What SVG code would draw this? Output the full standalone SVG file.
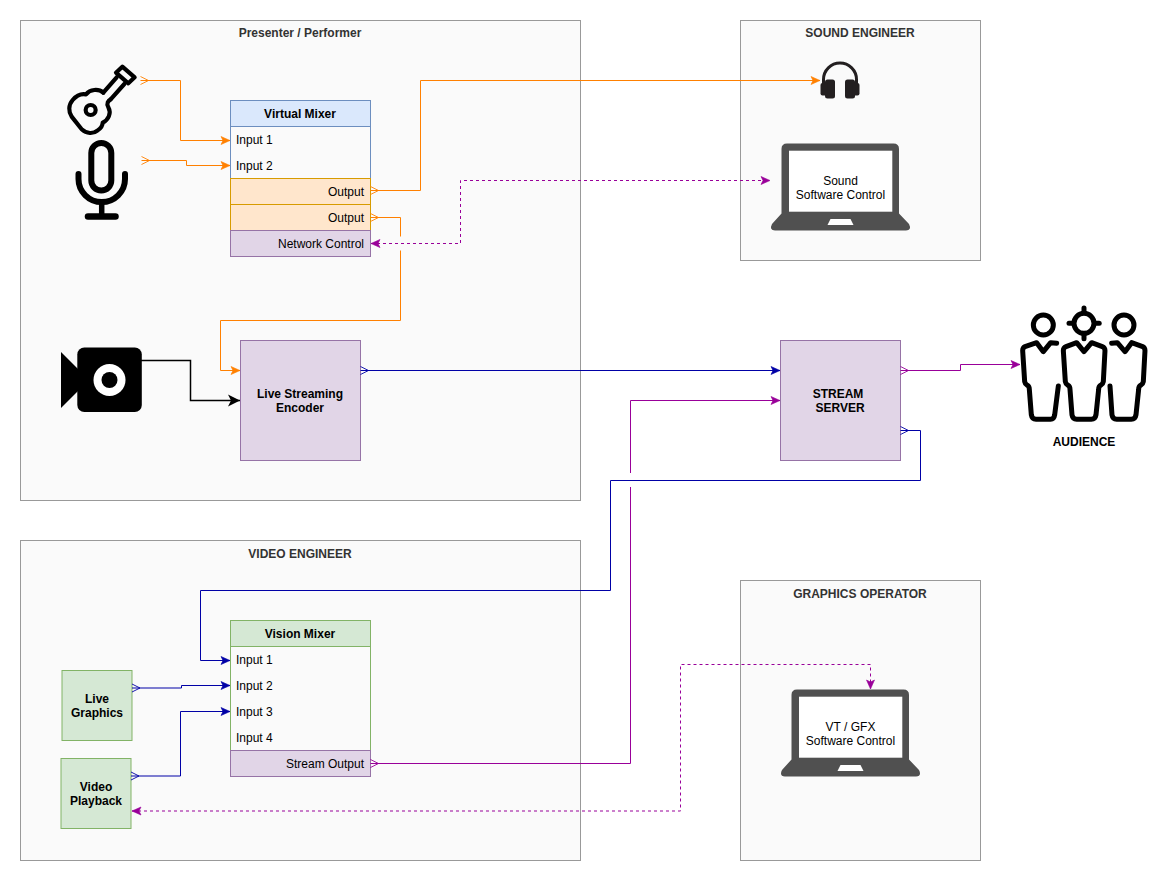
<svg xmlns="http://www.w3.org/2000/svg" width="1169" height="881" viewBox="0 0 1169 881">
<style>
text{font-family:"Liberation Sans",Arial,sans-serif;font-size:12px;fill:#000}
.b{font-weight:bold}.m{text-anchor:middle}.e{text-anchor:end}
.ct{font-weight:bold;fill:#333;text-anchor:middle}
.c{fill:#fafafa;stroke:#999}
.blue{fill:#dae8fc;stroke:#6c8ebf}.or{fill:#ffe6cc;stroke:#d79b00}.pu{fill:#e1d5e7;stroke:#9673a6}.gr{fill:#d5e8d4;stroke:#82b366}.tb{fill:none}
.l{fill:none;stroke-width:1}
.o{stroke:#ff8000}.p{stroke:#990099}.n{stroke:#0000a6}
.d{stroke-dasharray:3 3}
.ic{fill:none;stroke:#000;stroke-linecap:round;stroke-linejoin:round}
.lap{fill:#505050}
.hp{fill:#231f20}
</style>
<defs>
<marker id="ao" markerUnits="userSpaceOnUse" markerWidth="12" markerHeight="12" refX="9" refY="5" orient="auto-start-reverse" overflow="visible"><path d="M0 1L9 5L0 9L2 5Z" fill="#ff8000" stroke="#ff8000" stroke-width=".6"/></marker>
<marker id="ap" markerUnits="userSpaceOnUse" markerWidth="12" markerHeight="12" refX="9" refY="5" orient="auto-start-reverse" overflow="visible"><path d="M0 1L9 5L0 9L2 5Z" fill="#990099" stroke="#990099" stroke-width=".6"/></marker>
<marker id="an" markerUnits="userSpaceOnUse" markerWidth="12" markerHeight="12" refX="9" refY="5" orient="auto-start-reverse" overflow="visible"><path d="M0 1L9 5L0 9L2 5Z" fill="#0000a6" stroke="#0000a6" stroke-width=".6"/></marker>
<marker id="ak" markerUnits="userSpaceOnUse" markerWidth="14" markerHeight="14" refX="12" refY="6" orient="auto" overflow="visible"><path d="M0 0L12 6L0 12L3 6Z" fill="#000"/></marker>
<marker id="so" markerUnits="userSpaceOnUse" markerWidth="10" markerHeight="10" refX="0" refY="5" orient="auto" overflow="visible"><path d="M0 1L8 5L0 9" fill="none" stroke="#ff8000" stroke-width=".9"/></marker>
<marker id="sp" markerUnits="userSpaceOnUse" markerWidth="10" markerHeight="10" refX="0" refY="5" orient="auto" overflow="visible"><path d="M0 1L8 5L0 9" fill="none" stroke="#990099" stroke-width=".9"/></marker>
<marker id="sn" markerUnits="userSpaceOnUse" markerWidth="10" markerHeight="10" refX="0" refY="5" orient="auto" overflow="visible"><path d="M0 1L8 5L0 9" fill="none" stroke="#0000a6" stroke-width=".9"/></marker>
<g id="laptop">
<path class="lap" d="M781.500 190V149Q781.500 143.500 787 143.500H893.500Q899 143.500 899 149V213.500L909 224Q912 230 906 230.500H775Q769 230 772 224L781.500 213.500Z"/>
<rect x="789" y="150.700" width="103.300" height="61" fill="#fff"/>
<path d="M830.500 219H850.500L853.500 225H827.500Z" fill="#fff"/>
</g>
</defs>
<rect width="1169" height="881" fill="#fff"/>

<g id="presenter-container"><rect class="c" x="20.500" y="20.500" width="560" height="480"/><text class="ct" x="300" y="37">Presenter / Performer</text></g>
<g id="sound-container"><rect class="c" x="740.500" y="20.500" width="240" height="240"/><text class="ct" x="860" y="37">SOUND ENGINEER</text></g>
<g id="video-container"><rect class="c" x="20.500" y="540.500" width="560" height="320"/><text class="ct" x="300" y="558">VIDEO ENGINEER</text></g>
<g id="graphics-container"><rect class="c" x="740.500" y="580.500" width="240" height="280"/><text class="ct" x="860" y="598">GRAPHICS OPERATOR</text></g>

<g id="guitar">
<g transform="translate(60,60) scale(.3333)" class="ic" stroke-width="12.500">
<path d="M130 98C115 85 90 88 78 103C62 100 48 108 38 120C25 135 25 155 35 170L65 208C80 222 100 222 112 212C122 205 128 198 128 188C145 180 155 160 145 142C138 130 145 122 152 118"/>
<path d="M130 98L170 52M152 118L193 72"/>
<path d="M187 20L224 52L205 70L168 38Z"/>
<circle cx="92" cy="150" r="15"/>
</g>
</g>
<g id="microphone" class="ic">
<rect x="91.300" y="143" width="20" height="47.500" rx="10" stroke-width="6"/>
<path d="M78.500 174V179A23.200 23 0 0 0 125 179V174" stroke-width="6"/>
<path d="M101.700 202V216" stroke-width="5.500"/>
<path d="M88 216.500H115.500" stroke-width="6.500"/>
</g>
<g id="camera">
<rect x="77.300" y="347.500" width="64.500" height="64.500" rx="7" fill="#000"/>
<path d="M61 352L79 370V390L61 408Z" fill="#000"/>
<circle cx="109.500" cy="380" r="16" fill="#fff"/><circle cx="109.500" cy="380" r="8" fill="#000"/>
</g>
<g id="virtual-mixer">
<rect class="blue" x="230.500" y="100.500" width="140" height="26"/>
<rect class="tb" x="230.500" y="126.500" width="140" height="52" stroke="#6c8ebf"/>
<rect class="or" x="230.500" y="178.500" width="140" height="26"/>
<rect class="or" x="230.500" y="204.500" width="140" height="26"/>
<rect class="pu" x="230.500" y="230.500" width="140" height="26"/>
<text class="b m" x="300" y="118">Virtual Mixer</text>
<text x="236" y="144">Input 1</text><text x="236" y="170">Input 2</text>
<text class="e" x="364" y="196">Output</text><text class="e" x="364" y="222">Output</text>
<text class="e" x="364" y="248">Network Control</text>
</g>
<g id="encoder"><rect class="pu" x="240.500" y="340.500" width="120" height="120"/><text class="b m" x="300" y="398">Live Streaming</text><text class="b m" x="300" y="412">Encoder</text></g>
<g id="headphones">
<path d="M823.500 84V79.500A16.500 16.500 0 0 1 856.500 79.500V84" fill="none" stroke="#231f20" stroke-width="3"/>
<rect class="hp" x="825" y="79.500" width="10" height="19" rx="2.500"/><rect class="hp" x="820.500" y="83" width="7" height="12.500" rx="2"/>
<rect class="hp" x="845" y="79.500" width="10" height="19" rx="2.500"/><rect class="hp" x="852.500" y="83" width="7" height="12.500" rx="2"/>
</g>
<g id="sound-laptop"><use href="#laptop"/><text class="m" x="840.500" y="185">Sound</text><text class="m" x="840.500" y="199">Software Control</text></g>
<g id="stream-server"><rect class="pu" x="780.500" y="340.500" width="120" height="120"/><text class="b m" x="838" y="398">STREAM</text><text class="b m" x="840" y="412">SERVER</text></g>
<g id="audience">
<g transform="translate(1010,300) scale(.3333)" class="ic" stroke-width="15">
<circle cx="100" cy="75" r="30"/>
<path d="M140 130L122 128L100 155L80 128L45 140Q38 143 38 152L44 245Q45 252 52 256Q58 259 58 268L64 345Q66 358 78 358H122Q132 358 134 345L145 258"/>
<circle cx="222" cy="70" r="30"/>
<path d="M222 24V38M222 102V116M177 70H190M254 70H268"/>
<path d="M168 140L200 128L222 155L245 128L277 140Q285 143 285 152L280 245Q279 252 272 256Q266 259 266 268L258 345Q256 358 244 358H200Q188 358 186 345L180 268Q180 259 174 256Q167 252 166 245L160 152Q160 143 168 140Z"/>
<circle cx="342" cy="75" r="30"/>
<path d="M305 130L322 128L345 155L365 128L398 140Q405 143 405 152L400 245Q399 252 392 256Q386 259 386 268L378 345Q376 358 364 358H320Q308 358 306 345L300 258"/>
</g>
<text class="b m" x="1084" y="446">AUDIENCE</text>
</g>
<g id="vision-mixer">
<rect class="gr" x="230.500" y="620.500" width="140" height="26"/>
<rect class="tb" x="230.500" y="646.500" width="140" height="104" stroke="#82b366"/>
<rect class="pu" x="230.500" y="750.500" width="140" height="26"/>
<text class="b m" x="300" y="638">Vision Mixer</text>
<text x="236" y="664">Input 1</text><text x="236" y="690">Input 2</text><text x="236" y="716">Input 3</text><text x="236" y="742">Input 4</text>
<text class="e" x="364" y="768">Stream Output</text>
</g>
<g id="live-graphics"><rect class="gr" x="62" y="670.500" width="70" height="70"/><text class="b m" x="97" y="703">Live</text><text class="b m" x="97" y="717">Graphics</text></g>
<g id="video-playback"><rect class="gr" x="61" y="758.500" width="70" height="70"/><text class="b m" x="96" y="791">Video</text><text class="b m" x="96" y="805">Playback</text></g>
<g id="gfx-laptop"><use href="#laptop" x="10" y="546"/><text class="m" x="850.500" y="731">VT / GFX</text><text class="m" x="850.500" y="745">Software Control</text></g>

<g id="connectors">
<path class="l o" marker-start="url(#so)" marker-end="url(#ao)" d="M140.500 80.500H180.500V140.500H230"/>
<path class="l o" marker-start="url(#so)" marker-end="url(#ao)" d="M141.500 160.500H186.500V165.500H230"/>
<path class="l o" marker-start="url(#so)" marker-end="url(#ao)" d="M370.500 190.500H420.500V80.500H820"/>
<path class="l o" marker-start="url(#so)" d="M370.500 217.500H400.500V236.500"/>
<path class="l o" marker-end="url(#ao)" d="M400.500 250.500V320.500H220.500V370.500H240"/>
<path class="l p d" marker-start="url(#ap)" marker-end="url(#ap)" d="M371 243.500H460.500V180.500H770"/>
<path fill="none" stroke="#000" stroke-width="1.500" marker-end="url(#ak)" d="M141 360.500H190.500V400.500H240"/>
<path class="l n" marker-start="url(#sn)" marker-end="url(#an)" d="M360.500 370.500H780"/>
<path class="l p" marker-start="url(#sp)" d="M370.500 763.500H630.500V487"/>
<path class="l p" marker-end="url(#ap)" d="M630.500 473V400.500H780"/>
<path class="l p" marker-start="url(#sp)" marker-end="url(#ap)" d="M900.500 370.500H960.500V364.500H1020"/>
<path class="l n" marker-start="url(#sn)" marker-end="url(#an)" d="M900.500 430.500H920.500V480.500H610.500V590.500H200.500V660.500H230"/>
<path class="l n" marker-start="url(#sn)" marker-end="url(#an)" d="M132 688H181.500V685.500H230"/>
<path class="l n" marker-start="url(#sn)" marker-end="url(#an)" d="M131 776H180.500V711.500H230"/>
<path class="l p d" marker-start="url(#ap)" marker-end="url(#ap)" d="M132 811H680.500V664.500H870.500V689"/>
</g>
</svg>
